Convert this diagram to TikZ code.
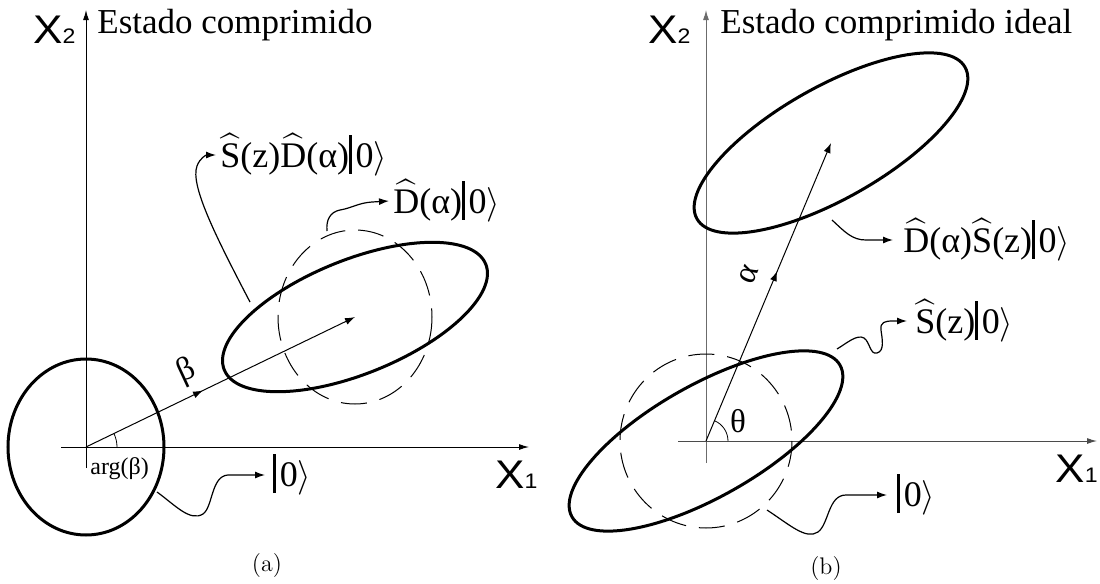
\documentclass[tikz,border=0pt]{standalone}
\usepackage{fontspec}
\usepackage{amsmath}
\newfontfamily\tm{Liberation Serif}
\newfontfamily\axfont{Liberation Sans}
\usetikzlibrary{arrows.meta,decorations.markings}
\definecolor{axgray}{rgb}{0.42,0.42,0.42}
\newcommand\XX[1]{{\axfont\fontsize{20}{20}\selectfont\scalebox{1.1}[1]{X}\fontsize{10.5}{10.5}\selectfont\scalebox{1.1}[1]{#1}}}
\newcommand\hS{$\widehat{\text{S}}$}
\newcommand\hD{$\widehat{\text{D}}$}
\newcommand\kz{\rule[-0.17em]{0.08em}{1.07em}\kern0.1em0$\rangle$}
\tikzset{
  axisline/.style={line width=0.5pt,-{Latex[length=5pt,width=3pt]}},
  thickell/.style={line width=1.5pt},
  dashell/.style={line width=0.5pt,dash pattern=on 13pt off 6.5pt},
  vec/.style={line width=0.5pt,-{Latex[length=5pt,width=3.5pt]}},
  midarr/.style={postaction={decorate},decoration={markings,mark=at position #1 with {\arrow{Latex[length=5pt,width=3.5pt]}}}},
  curv/.style={line width=0.6pt,-{Latex[length=5pt,width=3.5pt]}},
  lbl/.style={font=\tm\fontsize{18}{21}\selectfont,anchor=west,inner ysep=0pt,inner xsep=2pt},
  ttl/.style={font=\tm\fontsize{17.5}{20}\selectfont,anchor=base west,inner sep=0pt},
  axl/.style={anchor=base west,inner sep=0pt},
  greek/.style={font=\tm\fontsize{16.5}{19}\selectfont,inner sep=0pt},
  captext/.style={font=\fontsize{12}{14}\selectfont,inner sep=0pt}
}
\begin{document}
\begin{tikzpicture}[x=0.5pt,y=-0.5pt]
\useasboundingbox (0,0) rectangle (1100,584);
% ---------------- panel (a)
\coordinate (O1) at (86,447);
\coordinate (Pa) at (355,317);
\draw[axisline] (86,468) -- (86,10);
\draw[axisline] (61,447) -- (529,447);
\node[axl] (x2a) at (33,43) {\XX{2}};
\node[axl] (x1a) at (495,488) {\XX{1}};
\node[ttl] (ta) at (97,33) {Estado comprimido};
\draw[thickell] (O1) ellipse [x radius=78, y radius=88];
\draw[dashell] (Pa) ellipse [x radius=77, y radius=87];
\draw[thickell, rotate around={22:(Pa)}] (Pa) ellipse [x radius=141, y radius=57];
\draw[vec, midarr=0.435] (O1) -- (Pa);
\draw[line width=0.4pt] (117,447) arc [start angle=0, end angle=-25.8, radius=31];
\node[greek, rotate=25] (beta) at (187,372) {β};
\node[font=\tm\fontsize{12}{14}\selectfont, anchor=base west, inner sep=0pt] (argb) at (90,474) {arg(β)};
\node[lbl] (L1) at (216,155) {\hS(z)\hD(α)\kz};
\node[lbl] (L2) at (389,201) {\hD(α)\kz};
\node[lbl, inner xsep=4pt] (L3) at (265,475) {\kz};
\coordinate (a1s) at (250,302);
\coordinate (a2s) at (327,231);
\coordinate (a3s) at (157,492);
\draw[curv] (a1s) .. controls (215,235) and (190,185) .. (197,166) .. controls (200,158) and (206,155) .. (L1.west);
\draw[curv] (a2s) .. controls (326,220) and (330,212) .. (340,210) .. controls (352,208) and (358,203) .. (372,202) -- (L2.west);
\draw[curv] (a3s) .. controls (175,505) and (190,522) .. (203,514) .. controls (213,507) and (211,476) .. (228,475) -- (L3.west);
\node[captext] (capa) at (267,566) {(a)};
% ---------------- panel (b)
\coordinate (O2) at (706,441);
\coordinate (Pb) at (831,143);
\draw[axisline, axgray] (706,463) -- (706,10);
\draw[axisline, axgray!70!black] (678,441) -- (1097,441);
\node[axl] (x2b) at (648,43) {\XX{2}};
\node[axl] (x1b) at (1055,482) {\XX{1}};
\node[ttl] (tb) at (720,33) {Estado comprimido ideal};
\draw[dashell] (O2) ellipse [x radius=86, y radius=87];
\draw[thickell, rotate around={29.5:(O2)}] (O2) ellipse [x radius=154, y radius=56];
\draw[thickell, rotate around={29.5:(Pb)}] (Pb) ellipse [x radius=154, y radius=56];
\draw[vec, midarr=0.57] (O2) -- (Pb);
\draw[line width=0.4pt] (728,441) arc [start angle=0, end angle=-67, radius=22];
\node[greek] (theta) at (738,421) {θ};
\node[greek, rotate=67] (alpha) at (749,275) {α};
\node[lbl, inner xsep=5pt] (M1) at (893,240) {\hD(α)\hS(z)\kz};
\node[lbl, inner xsep=4pt] (M2) at (907,321) {\hS(z)\kz};
\node[lbl, inner xsep=5pt] (M3) at (887,495) {\kz};
\coordinate (b1s) at (832,220);
\coordinate (b2s) at (837,349);
\coordinate (b3s) at (767,510);
\draw[curv] (b1s) .. controls (845,232) and (852,240) .. (866,240) -- (M1.west);
\draw[curv] (b2s) .. controls (847,343) and (857,334) .. (864,338) .. controls (870,342) and (870,355) .. (877,353) .. controls (885,351) and (882,338) .. (881,330) .. controls (880,322) and (885,321) .. (893,321) -- (M2.west);
\draw[curv] (b3s) .. controls (790,525) and (806,540) .. (818,532) .. controls (829,524) and (828,495) .. (846,495) -- (M3.west);
\node[captext] (capb) at (826,569) {(b)};
\end{tikzpicture}
\end{document}
